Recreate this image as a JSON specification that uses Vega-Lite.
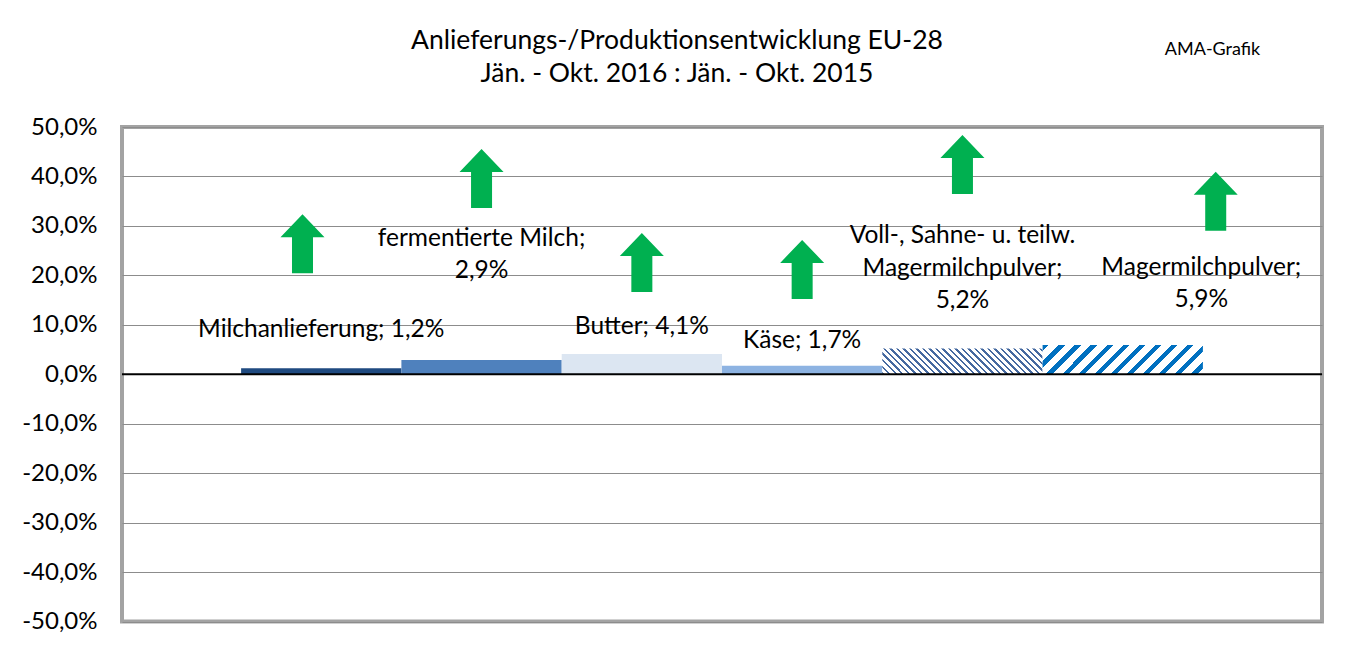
{
  "$schema": "https://vega.github.io/schema/vega-lite/v6.json",
  "width": 1200,
  "height": 494.5,
  "autosize": {"type": "none"},
  "padding": {"left": 122, "top": 127, "right": 31, "bottom": 25.5},
  "background": "white",
  "title": {
    "text": ["Anlieferungs-/Produktionsentwicklung EU-28", "Jän. - Okt. 2016 : Jän. - Okt. 2015"],
    "font": "Lato", "fontSize": 26.5, "fontWeight": "normal", "color": "#000000",
    "lineHeight": 33, "anchor": "middle", "frame": "group", "dx": -45, "dy": 75, "offset": 28
  },
  "config": {
    "view": {"stroke": "#A3A3A3", "strokeWidth": 4},
    "axisY": {
      "labelFont": "Lato", "labelFontSize": 24, "labelColor": "#000000", "labelPadding": 25,
      "ticks": false, "domain": false, "grid": true, "gridColor": "#8C8C8C", "gridWidth": 1.2, "title": null
    }
  },
  "datasets": {
    "rows": [
      {"category": "Milchanlieferung", "value": 0.012, "label": "Milchanlieferung; 1,2%", "labelY": 0.0747, "arrowY": 0.264},
      {"category": "fermentierte Milch", "value": 0.029, "label": "fermentierte Milch;\n2,9%", "labelY": 0.259, "arrowY": 0.396},
      {"category": "Butter", "value": 0.041, "label": "Butter; 4,1%", "labelY": 0.0808, "arrowY": 0.226},
      {"category": "Käse", "value": 0.017, "label": "Käse; 1,7%", "labelY": 0.0525, "arrowY": 0.212},
      {"category": "Voll-, Sahne- u. teilw. Magermilchpulver", "value": 0.052, "label": "Voll-, Sahne- u. teilw.\nMagermilchpulver;\n5,2%", "labelY": 0.265, "arrowY": 0.424},
      {"category": "Magermilchpulver", "value": 0.059, "label": "Magermilchpulver;\n5,9%", "labelY": 0.201, "arrowY": 0.350}
    ]
  },
  "data": {"name": "rows"},
  "layer": [
    {
      "transform": [{"filter": {"field": "category", "oneOf": ["Milchanlieferung", "fermentierte Milch", "Butter", "Käse"]}}],
      "mark": {"type": "bar"},
      "encoding": {
        "x": {"field": "category", "type": "nominal", "sort": null, "axis": null,
              "scale": {"type": "band", "paddingInner": 0, "paddingOuter": 0.743,
                        "domain": ["Milchanlieferung", "fermentierte Milch", "Butter", "Käse", "Voll-, Sahne- u. teilw. Magermilchpulver", "Magermilchpulver"]}},
        "y": {"field": "value", "type": "quantitative",
              "scale": {"domain": [-0.5, 0.5], "nice": false},
              "axis": {"values": [-0.5, -0.4, -0.3, -0.2, -0.1, 0, 0.1, 0.2, 0.3, 0.4, 0.5],
                       "labelExpr": "replace(replace(format(datum.value, '.1%'), '.', ','), '\u2212', '-')"}},
        "color": {"field": "category", "type": "nominal", "legend": null,
                  "scale": {"domain": ["Milchanlieferung", "fermentierte Milch", "Butter", "Käse"],
                            "range": ["#1F4A80", "#4F81BD", "#DCE6F2", "#8DB3E2"]}}
      }
    },
    {
      "transform": [{"filter": {"field": "category", "equal": "Voll-, Sahne- u. teilw. Magermilchpulver"}}],
      "mark": {"type": "bar", "fill": {"gradient": "linear", "x1": 0, "y1": 1, "x2": 1.131, "y2": 0.819, "stops": [
        {"offset":0,"color":"#4569A0"},{"offset":0.013,"color":"#4569A0"},{"offset":0.013,"color":"#FFFFFF"},{"offset":0.035,"color":"#FFFFFF"},
        {"offset":0.035,"color":"#4569A0"},{"offset":0.048,"color":"#4569A0"},{"offset":0.048,"color":"#FFFFFF"},{"offset":0.07,"color":"#FFFFFF"},
        {"offset":0.07,"color":"#4569A0"},{"offset":0.083,"color":"#4569A0"},{"offset":0.083,"color":"#FFFFFF"},{"offset":0.105,"color":"#FFFFFF"},
        {"offset":0.105,"color":"#4569A0"},{"offset":0.118,"color":"#4569A0"},{"offset":0.118,"color":"#FFFFFF"},{"offset":0.14,"color":"#FFFFFF"},
        {"offset":0.14,"color":"#4569A0"},{"offset":0.153,"color":"#4569A0"},{"offset":0.153,"color":"#FFFFFF"},{"offset":0.175,"color":"#FFFFFF"},
        {"offset":0.175,"color":"#4569A0"},{"offset":0.188,"color":"#4569A0"},{"offset":0.188,"color":"#FFFFFF"},{"offset":0.21,"color":"#FFFFFF"},
        {"offset":0.21,"color":"#4569A0"},{"offset":0.223,"color":"#4569A0"},{"offset":0.223,"color":"#FFFFFF"},{"offset":0.245,"color":"#FFFFFF"},
        {"offset":0.245,"color":"#4569A0"},{"offset":0.258,"color":"#4569A0"},{"offset":0.258,"color":"#FFFFFF"},{"offset":0.28,"color":"#FFFFFF"},
        {"offset":0.28,"color":"#4569A0"},{"offset":0.293,"color":"#4569A0"},{"offset":0.293,"color":"#FFFFFF"},{"offset":0.315,"color":"#FFFFFF"},
        {"offset":0.315,"color":"#4569A0"},{"offset":0.328,"color":"#4569A0"},{"offset":0.328,"color":"#FFFFFF"},{"offset":0.35,"color":"#FFFFFF"},
        {"offset":0.35,"color":"#4569A0"},{"offset":0.363,"color":"#4569A0"},{"offset":0.363,"color":"#FFFFFF"},{"offset":0.385,"color":"#FFFFFF"},
        {"offset":0.385,"color":"#4569A0"},{"offset":0.398,"color":"#4569A0"},{"offset":0.398,"color":"#FFFFFF"},{"offset":0.42,"color":"#FFFFFF"},
        {"offset":0.42,"color":"#4569A0"},{"offset":0.433,"color":"#4569A0"},{"offset":0.433,"color":"#FFFFFF"},{"offset":0.455,"color":"#FFFFFF"},
        {"offset":0.455,"color":"#4569A0"},{"offset":0.468,"color":"#4569A0"},{"offset":0.468,"color":"#FFFFFF"},{"offset":0.49,"color":"#FFFFFF"},
        {"offset":0.49,"color":"#4569A0"},{"offset":0.503,"color":"#4569A0"},{"offset":0.503,"color":"#FFFFFF"},{"offset":0.525,"color":"#FFFFFF"},
        {"offset":0.525,"color":"#4569A0"},{"offset":0.538,"color":"#4569A0"},{"offset":0.538,"color":"#FFFFFF"},{"offset":0.56,"color":"#FFFFFF"},
        {"offset":0.56,"color":"#4569A0"},{"offset":0.573,"color":"#4569A0"},{"offset":0.573,"color":"#FFFFFF"},{"offset":0.595,"color":"#FFFFFF"},
        {"offset":0.595,"color":"#4569A0"},{"offset":0.608,"color":"#4569A0"},{"offset":0.608,"color":"#FFFFFF"},{"offset":0.63,"color":"#FFFFFF"},
        {"offset":0.63,"color":"#4569A0"},{"offset":0.643,"color":"#4569A0"},{"offset":0.643,"color":"#FFFFFF"},{"offset":0.665,"color":"#FFFFFF"},
        {"offset":0.665,"color":"#4569A0"},{"offset":0.678,"color":"#4569A0"},{"offset":0.678,"color":"#FFFFFF"},{"offset":0.7,"color":"#FFFFFF"},
        {"offset":0.7,"color":"#4569A0"},{"offset":0.713,"color":"#4569A0"},{"offset":0.713,"color":"#FFFFFF"},{"offset":0.735,"color":"#FFFFFF"},
        {"offset":0.735,"color":"#4569A0"},{"offset":0.748,"color":"#4569A0"},{"offset":0.748,"color":"#FFFFFF"},{"offset":0.77,"color":"#FFFFFF"},
        {"offset":0.77,"color":"#4569A0"},{"offset":0.783,"color":"#4569A0"},{"offset":0.783,"color":"#FFFFFF"},{"offset":0.805,"color":"#FFFFFF"},
        {"offset":0.805,"color":"#4569A0"},{"offset":0.818,"color":"#4569A0"},{"offset":0.818,"color":"#FFFFFF"},{"offset":0.84,"color":"#FFFFFF"},
        {"offset":0.84,"color":"#4569A0"},{"offset":0.853,"color":"#4569A0"},{"offset":0.853,"color":"#FFFFFF"},{"offset":0.875,"color":"#FFFFFF"},
        {"offset":0.875,"color":"#4569A0"},{"offset":0.888,"color":"#4569A0"},{"offset":0.888,"color":"#FFFFFF"},{"offset":0.91,"color":"#FFFFFF"},
        {"offset":0.91,"color":"#4569A0"},{"offset":0.923,"color":"#4569A0"},{"offset":0.923,"color":"#FFFFFF"},{"offset":0.945,"color":"#FFFFFF"},
        {"offset":0.945,"color":"#4569A0"},{"offset":0.958,"color":"#4569A0"},{"offset":0.958,"color":"#FFFFFF"},{"offset":0.98,"color":"#FFFFFF"},
        {"offset":0.98,"color":"#4569A0"},{"offset":0.993,"color":"#4569A0"},{"offset":0.993,"color":"#FFFFFF"},{"offset":1,"color":"#FFFFFF"}
      ]}},
      "encoding": {
        "x": {"field": "category", "type": "nominal", "sort": null, "axis": null},
        "y": {"field": "value", "type": "quantitative"}
      }
    },
    {
      "transform": [{"filter": {"field": "category", "equal": "Magermilchpulver"}}],
      "mark": {"type": "bar", "fill": {"gradient": "linear", "x1": 0, "y1": 0, "x2": 1.144, "y2": 0.208, "stops": [
        {"offset":0,"color":"#0070C0"},{"offset":0.033,"color":"#0070C0"},{"offset":0.033,"color":"#FFFFFF"},{"offset":0.085,"color":"#FFFFFF"},
        {"offset":0.085,"color":"#0070C0"},{"offset":0.118,"color":"#0070C0"},{"offset":0.118,"color":"#FFFFFF"},{"offset":0.17,"color":"#FFFFFF"},
        {"offset":0.17,"color":"#0070C0"},{"offset":0.203,"color":"#0070C0"},{"offset":0.203,"color":"#FFFFFF"},{"offset":0.255,"color":"#FFFFFF"},
        {"offset":0.255,"color":"#0070C0"},{"offset":0.288,"color":"#0070C0"},{"offset":0.288,"color":"#FFFFFF"},{"offset":0.34,"color":"#FFFFFF"},
        {"offset":0.34,"color":"#0070C0"},{"offset":0.373,"color":"#0070C0"},{"offset":0.373,"color":"#FFFFFF"},{"offset":0.425,"color":"#FFFFFF"},
        {"offset":0.425,"color":"#0070C0"},{"offset":0.458,"color":"#0070C0"},{"offset":0.458,"color":"#FFFFFF"},{"offset":0.51,"color":"#FFFFFF"},
        {"offset":0.51,"color":"#0070C0"},{"offset":0.543,"color":"#0070C0"},{"offset":0.543,"color":"#FFFFFF"},{"offset":0.595,"color":"#FFFFFF"},
        {"offset":0.595,"color":"#0070C0"},{"offset":0.628,"color":"#0070C0"},{"offset":0.628,"color":"#FFFFFF"},{"offset":0.68,"color":"#FFFFFF"},
        {"offset":0.68,"color":"#0070C0"},{"offset":0.713,"color":"#0070C0"},{"offset":0.713,"color":"#FFFFFF"},{"offset":0.765,"color":"#FFFFFF"},
        {"offset":0.765,"color":"#0070C0"},{"offset":0.798,"color":"#0070C0"},{"offset":0.798,"color":"#FFFFFF"},{"offset":0.85,"color":"#FFFFFF"},
        {"offset":0.85,"color":"#0070C0"},{"offset":0.883,"color":"#0070C0"},{"offset":0.883,"color":"#FFFFFF"},{"offset":0.935,"color":"#FFFFFF"},
        {"offset":0.935,"color":"#0070C0"},{"offset":0.968,"color":"#0070C0"},{"offset":0.968,"color":"#FFFFFF"},{"offset":1,"color":"#FFFFFF"}
      ]}},
      "encoding": {
        "x": {"field": "category", "type": "nominal", "sort": null, "axis": null},
        "y": {"field": "value", "type": "quantitative"}
      }
    },
    {
      "data": {"values": [{"level": 0}]},
      "mark": {"type": "rule", "color": "#000000", "strokeWidth": 2},
      "encoding": {"y": {"field": "level", "type": "quantitative"}}
    },
    {
      "transform": [{"filter": {"field": "category", "oneOf": ["fermentierte Milch", "Butter", "Käse", "Voll-, Sahne- u. teilw. Magermilchpulver"]}}],
      "mark": {"type": "point", "shape": "M0,-1L0.746,-0.22L0.356,-0.22L0.356,1L-0.356,1L-0.356,-0.22L-0.746,-0.22Z", "filled": true, "color": "#00B050", "opacity": 1, "size": 3481, "strokeWidth": 0},
      "encoding": {
        "x": {"field": "category", "type": "nominal", "sort": null, "axis": null, "bandPosition": 0.5},
        "y": {"field": "arrowY", "type": "quantitative"}
      }
    },
    {
      "transform": [{"filter": {"field": "category", "equal": "Milchanlieferung"}}],
      "mark": {"type": "point", "shape": "M0,-1L0.746,-0.22L0.356,-0.22L0.356,1L-0.356,1L-0.356,-0.22L-0.746,-0.22Z", "filled": true, "color": "#00B050", "opacity": 1, "size": 3481, "strokeWidth": 0},
      "encoding": {
        "x": {"field": "category", "type": "nominal", "sort": null, "axis": null, "bandPosition": 0.383},
        "y": {"field": "arrowY", "type": "quantitative"}
      }
    },
    {
      "transform": [{"filter": {"field": "category", "equal": "Magermilchpulver"}}],
      "mark": {"type": "point", "shape": "M0,-1L0.746,-0.22L0.356,-0.22L0.356,1L-0.356,1L-0.356,-0.22L-0.746,-0.22Z", "filled": true, "color": "#00B050", "opacity": 1, "size": 3481, "strokeWidth": 0},
      "encoding": {
        "x": {"field": "category", "type": "nominal", "sort": null, "axis": null, "bandPosition": 1.08},
        "y": {"field": "arrowY", "type": "quantitative"}
      }
    },
    {
      "transform": [{"filter": {"field": "category", "oneOf": ["Milchanlieferung", "fermentierte Milch", "Butter", "Käse", "Voll-, Sahne- u. teilw. Magermilchpulver"]}}],
      "mark": {"type": "text", "font": "Lato", "fontSize": 24.5, "color": "#000000", "align": "center", "baseline": "alphabetic", "lineBreak": "\n", "lineHeight": 32.3},
      "encoding": {
        "x": {"field": "category", "type": "nominal", "sort": null, "axis": null, "bandPosition": 0.5},
        "y": {"field": "labelY", "type": "quantitative"},
        "text": {"field": "label"}
      }
    },
    {
      "transform": [{"filter": {"field": "category", "equal": "Magermilchpulver"}}],
      "mark": {"type": "text", "font": "Lato", "fontSize": 24.5, "color": "#000000", "align": "center", "baseline": "alphabetic", "lineBreak": "\n", "lineHeight": 32.3},
      "encoding": {
        "x": {"field": "category", "type": "nominal", "sort": null, "axis": null, "bandPosition": 0.99},
        "y": {"field": "labelY", "type": "quantitative"},
        "text": {"field": "label"}
      }
    },
    {
      "data": {"values": [{"category": "Magermilchpulver", "note": "AMA-Grafik", "level": 0.646}]},
      "mark": {"type": "text", "font": "Lato", "fontSize": 18, "color": "#000000", "align": "center", "baseline": "alphabetic"},
      "encoding": {
        "x": {"field": "category", "type": "nominal", "sort": null, "axis": null, "bandPosition": 1.06},
        "y": {"field": "level", "type": "quantitative"},
        "text": {"field": "note"}
      }
    }
  ]
}
